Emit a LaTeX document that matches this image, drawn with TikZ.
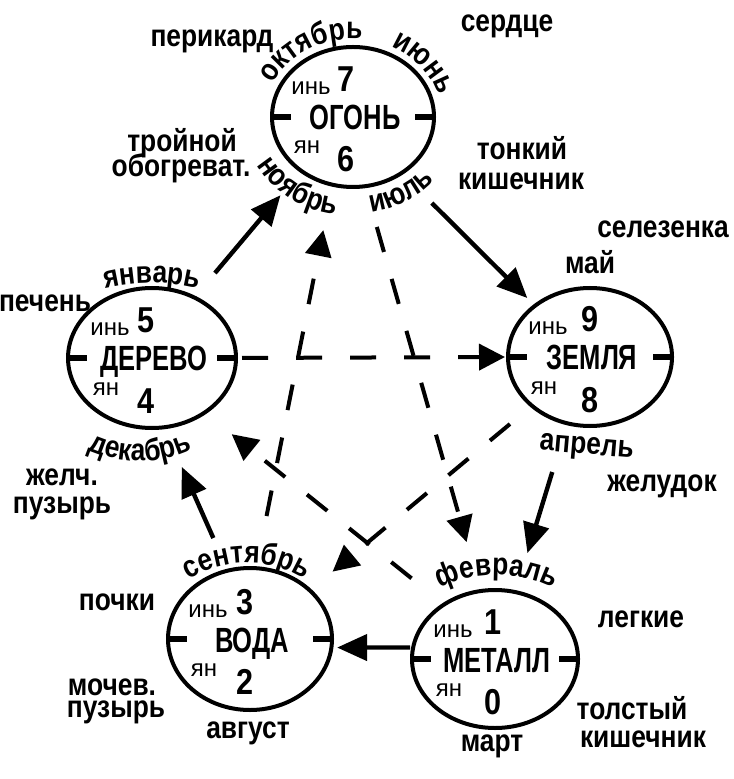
\documentclass[tikz,border=0pt]{standalone}
\usepackage{fontspec}
\setmainfont{Liberation Sans}
\newfontfamily\cfont{Liberation Sans}[FakeStretch=0.85]
\newfontfamily\nfont{Liberation Sans}[FakeStretch=0.73]
\usetikzlibrary{shapes.geometric,arrows.meta,decorations.text}
\newcommand\orgf{\cfont\bfseries\fontsize{15.5}{18}\selectfont}
\newcommand\namef{\nfont\bfseries\fontsize{17.5}{20}\selectfont}
\newcommand\digf{\cfont\bfseries\fontsize{18}{21}\selectfont}
\newcommand\yyf{\fontsize{12}{14}\selectfont}
\newcommand\elem[9]{%
  \node[elemshape, minimum width=#4pt, minimum height=#5pt] (#1) at (#2,#3) {};
  \draw[tickline] (#1.west) -- ++(19,0);
  \draw[tickline] (#1.east) -- ++(-19,0);
  \node[ename] (#1-name) at ([shift={(2,13)}]#1.center) {#6};
  \node[yinyang] (#1-yin) at ([shift={(-42,-22)}]#1.center) {инь};
  \node[digit] (#1-top) at ([shift={(#9,-25)}]#1.center) {#7};
  \node[yinyang] (#1-yang) at ([shift={(-46,37)}]#1.center) {ян};
  \node[digit] (#1-bot) at ([shift={(#9,55)}]#1.center) {#8};
}
\begin{document}
\begin{tikzpicture}[x=0.5pt,y=-0.5pt,
  elemshape/.style={ellipse, draw, line width=2pt, inner sep=0pt, outer sep=0pt},
  tickline/.style={line width=3pt},
  organ/.style={anchor=base, inner sep=0pt, font=\orgf},
  month/.style={anchor=base, inner sep=0pt, font=\orgf},
  solidarr/.style={line width=2.2pt, -{Triangle[length=15pt,width=13pt]}},
  dasharr/.style={line width=2pt, dash pattern=on 13pt off 14pt, -{Triangle[length=13pt,width=13pt]}},
  yinyang/.style={anchor=base, inner sep=0pt, font=\yyf},
  digit/.style={anchor=base, inner sep=0pt, font=\digf},
  ename/.style={anchor=base, inner sep=0pt, font=\namef},
  arctext/.style={decorate, decoration={text along path, text align=center, text={|\orgf|#1}}},
]
\fill[white] (0,0) rectangle (733,779);
\useasboundingbox (0,0) rectangle (733,779);

\elem{ogon}{353}{117}{81}{70}{ОГОНЬ}{7}{6}{-7}
\elem{derevo}{152}{358}{84}{70}{ДЕРЕВО}{5}{4}{-6}
\elem{zemlya}{590}{357}{82}{69}{ЗЕМЛЯ}{9}{8}{0}
\elem{voda}{250}{639}{82}{71}{ВОДА}{3}{2}{-5}
\elem{metall}{495}{659}{83}{69}{МЕТАЛЛ}{1}{0}{-2}

% month labels
\path[arctext=октябрь] (ogon.center) ++(195:89 and 78) arc[start angle=195, end angle=285, x radius=89, y radius=78];
\path[arctext=июнь] (ogon.center) ++(290:89 and 78) arc[start angle=290, end angle=350, x radius=89, y radius=78];
\path[arctext=ноябрь] (ogon.center) ++(170:110 and 99) arc[start angle=170, end angle=82, x radius=110, y radius=99];
\path[arctext=июль] (ogon.center) ++(100:108 and 97) arc[start angle=100, end angle=20, x radius=108, y radius=97];
\path[arctext=январь] ([shift={(0,125)}]derevo.center) ++(250:200) arc[start angle=250, end angle=290, radius=200];
\path[arctext=декабрь] ([shift={(-12,-25)}]derevo.center) ++(130:128) arc[start angle=130, end angle=50, radius=128];
\path[arctext=сентябрь] ([shift={(-3,35)}]voda.center) ++(220:111) arc[start angle=220, end angle=320, radius=111];
\path[arctext=февраль] ([shift={(2,46)}]metall.center) ++(225:130) arc[start angle=225, end angle=315, radius=130];
\node[month] (may) at (590,274) {май};
\node[month, rotate=-5] (apr) at (586,454) {апрель};
\node[month] (avg) at (248,738) {август};
\node[month] (mart) at (492,751) {март};

% organ labels
\node[organ] (peri) at (212,47) {перикард};
\node[organ] (serd) at (507,32) {сердце};
\node[organ] (troi1) at (182,152) {тройной};
\node[organ] (troi2) at (181,177) {обогреват.};
\node[organ] (tonk1) at (522,160) {тонкий};
\node[organ] (tonk2) at (521,190) {кишечник};
\node[organ] (selez) at (663,238) {селезенка};
\node[organ] (pech) at (45,312) {печень};
\node[organ] (zhel1) at (62,485) {желч.};
\node[organ] (zhel2) at (62,513) {пузырь};
\node[organ] (zhelud) at (662,491) {желудок};
\node[organ] (pochki) at (117,610) {почки};
\node[organ] (legk) at (641,627) {легкие};
\node[organ] (moch1) at (112,695) {мочев.};
\node[organ] (moch2) at (116,717) {пузырь};
\node[organ] (tol1) at (632,719) {толстый};
\node[organ] (tol2) at (643,747) {кишечник};

% solid arrows
\draw[solidarr, shorten <=16pt, shorten >=16pt] (derevo.55) -- (ogon.226);
\draw[solidarr, shorten <=21.3pt, shorten >=5.5pt] (ogon.311) -- (zemlya.137);
\draw[solidarr, shorten <=25.5pt, shorten >=20.4pt] (zemlya.251) -- (metall.73);
\draw[solidarr, shorten <=1.5pt, shorten >=2.85pt] (metall.172) -- (voda.354);
\draw[solidarr, shorten <=17.85pt, shorten >=21.7pt] (voda.108) -- (derevo.280);

% dashed arrows
\draw[dasharr, shorten <=3pt, shorten >=1.5pt] (derevo.east) -- (zemlya.west);
\draw[dasharr, shorten <=26.6pt, shorten >=23.15pt] (voda.85) -- (ogon.253);
\draw[dasharr, shorten <=21.2pt, shorten >=25.45pt] (ogon.280) -- (metall.102);
\draw[dasharr, shorten <=14.3pt, shorten >=14.75pt] (zemlya.220) -- (voda.39);
\draw[dasharr, shorten <=20.9pt, shorten >=17.3pt] (metall.133) -- (derevo.314);
\end{tikzpicture}
\end{document}
